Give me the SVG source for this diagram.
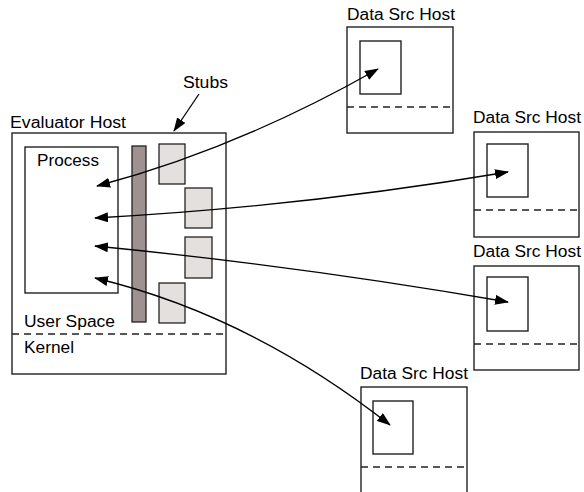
<svg xmlns="http://www.w3.org/2000/svg" width="584" height="492" viewBox="0 0 584 492">
<style>
text{font-family:"Liberation Sans",Arial,sans-serif;font-size:16px;fill:#000}
.box{fill:#fff;stroke:#222;stroke-width:1.4}
.stub{fill:#e4e0de;stroke:#222;stroke-width:1.3}
.dash{stroke:#222;stroke-width:1.3;stroke-dasharray:7 5;fill:none}
.conn{fill:none;stroke:#000;stroke-width:1.3}
</style>
<defs>
<marker id="ah" viewBox="0 0 14 10" refX="13" refY="5" markerWidth="14" markerHeight="10" markerUnits="userSpaceOnUse" orient="auto-start-reverse">
<path d="M0,0 L14,5 L0,10 Z" fill="#000"/>
</marker>
</defs>
<rect width="584" height="492" fill="#fff"/>
<g id="evaluator-host">
<rect class="box" x="12" y="133" width="214" height="241"/>
<text x="10" y="128" textLength="116" lengthAdjust="spacingAndGlyphs">Evaluator Host</text>
<line class="dash" x1="12" y1="334" x2="226" y2="334"/>
<text x="24" y="327" textLength="91" lengthAdjust="spacingAndGlyphs">User Space</text>
<text x="24" y="353" textLength="50" lengthAdjust="spacingAndGlyphs">Kernel</text>
</g>
<g id="process">
<rect class="box" x="25" y="147" width="93" height="146"/>
<text x="37" y="166" textLength="62" lengthAdjust="spacingAndGlyphs">Process</text>
</g>
<g id="bar">
<rect x="132" y="146" width="14" height="176" fill="#9f918f" stroke="#222" stroke-width="1.3"/>
</g>
<g id="stubs">
<rect class="stub" x="159" y="144" width="26" height="40"/>
<rect class="stub" x="185" y="188" width="27" height="40"/>
<rect class="stub" x="185" y="237" width="27" height="41"/>
<rect class="stub" x="159" y="283" width="26" height="40"/>
<text x="183" y="88" textLength="45" lengthAdjust="spacingAndGlyphs">Stubs</text>
</g>
<g id="dsh1">
<text x="347" y="20" textLength="108" lengthAdjust="spacingAndGlyphs">Data Src Host</text>
<rect class="box" x="347" y="27" width="106" height="106"/>
<rect class="box" x="360" y="41" width="41" height="53"/>
<line class="dash" x1="347" y1="107" x2="453" y2="107"/>
</g>
<g id="dsh2">
<text x="473" y="123" textLength="108" lengthAdjust="spacingAndGlyphs">Data Src Host</text>
<rect class="box" x="474" y="132" width="105" height="105"/>
<rect class="box" x="487" y="144" width="41" height="53"/>
<line class="dash" x1="474" y1="210" x2="579" y2="210"/>
</g>
<g id="dsh3">
<text x="473" y="257" textLength="108" lengthAdjust="spacingAndGlyphs">Data Src Host</text>
<rect class="box" x="474" y="266" width="105" height="104"/>
<rect class="box" x="487" y="277" width="41" height="54"/>
<line class="dash" x1="474" y1="344" x2="579" y2="344"/>
</g>
<g id="dsh4">
<text x="360" y="379" textLength="108" lengthAdjust="spacingAndGlyphs">Data Src Host</text>
<rect class="box" x="361" y="387" width="106" height="120"/>
<rect class="box" x="373" y="401" width="40" height="53"/>
<line class="dash" x1="361" y1="467" x2="467" y2="467"/>
</g>
<g id="connectors">
<path class="conn" d="M199,94 L174,131" marker-end="url(#ah)"/>
<path class="conn" d="M97,186 Q237,149 378,69" marker-start="url(#ah)" marker-end="url(#ah)"/>
<path class="conn" d="M95,218 Q300,207 508,172" marker-start="url(#ah)" marker-end="url(#ah)"/>
<path class="conn" d="M95,246 Q300,266 508,302" marker-start="url(#ah)" marker-end="url(#ah)"/>
<path class="conn" d="M95,278 Q250,315 390,425" marker-start="url(#ah)" marker-end="url(#ah)"/>
</g>
</svg>
